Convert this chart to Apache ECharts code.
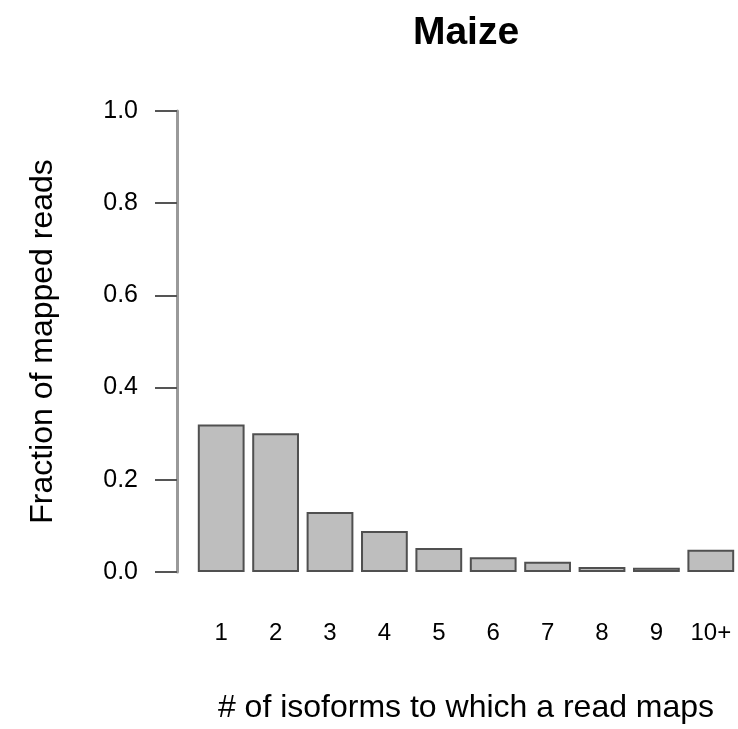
<!DOCTYPE html>
<html>
<head>
<meta charset="utf-8">
<script src="https://cdn.jsdelivr.net/npm/echarts@6/dist/echarts.min.js"></script>
<style>
  html, body { margin: 0; padding: 0; background: #fff; }
  #chart { width: 738px; height: 729px; }
</style>
</head>
<body>
<div id="chart"></div>
<script>
// Isoform multi-mapping distribution for maize reads
const categories = ['1', '2', '3', '4', '5', '6', '7', '8', '9', '10+'];
const fractions = [0.320, 0.301, 0.130, 0.089, 0.052, 0.032, 0.022, 0.011, 0.009, 0.048];
const yTicks = [0, 0.2, 0.4, 0.6, 0.8, 1.0];

const FONT = '"Liberation Sans", Arial, Helvetica, sans-serif';

const chart = echarts.init(document.getElementById('chart'), null, { renderer: 'canvas' });

chart.setOption({
  backgroundColor: '#ffffff',
  animation: false,
  title: {
    text: 'Maize',
    left: 461,
    top: 9,
    textAlign: 'center',
    textStyle: { fontFamily: FONT, fontSize: 39, fontWeight: 'bold', color: '#000' }
  },
  grid: { left: 194, right: -1, top: 111, bottom: 156, containLabel: false },
  xAxis: {
    type: 'category',
    data: categories,
    axisLine: { show: false },
    axisTick: { show: false },
    axisLabel: {
      interval: 0,
      hideOverlap: false,
      margin: 49,
      fontFamily: FONT,
      fontSize: 24,
      color: '#000'
    },
    name: '# of isoforms to which a read maps',
    nameLocation: 'middle',
    nameGap: 120,
    nameTextStyle: { fontFamily: FONT, fontSize: 32, color: '#000' }
  },
  yAxis: {
    type: 'value',
    min: yTicks[0],
    max: yTicks[yTicks.length - 1],
    interval: 0.2,
    offset: 17,
    splitLine: { show: false },
    axisLine: { show: true, lineStyle: { color: '#9a9a9a', width: 3 } },
    axisTick: { show: true, length: 22, lineStyle: { color: '#555', width: 2 } },
    axisLabel: {
      margin: 39,
      fontFamily: FONT,
      fontSize: 25,
      color: '#000',
      formatter: v => v.toFixed(1)
    },
    name: 'Fraction of mapped reads',
    nameLocation: 'middle',
    nameGap: 118,
    nameRotate: 90,
    nameTextStyle: { fontFamily: FONT, fontSize: 32, color: '#000' }
  },
  series: [{
    type: 'bar',
    data: fractions,
    barCategoryGap: '14%',
    itemStyle: { color: '#bebebe', borderColor: '#505050', borderWidth: 2 }
  }]
});
</script>
</body>
</html>
